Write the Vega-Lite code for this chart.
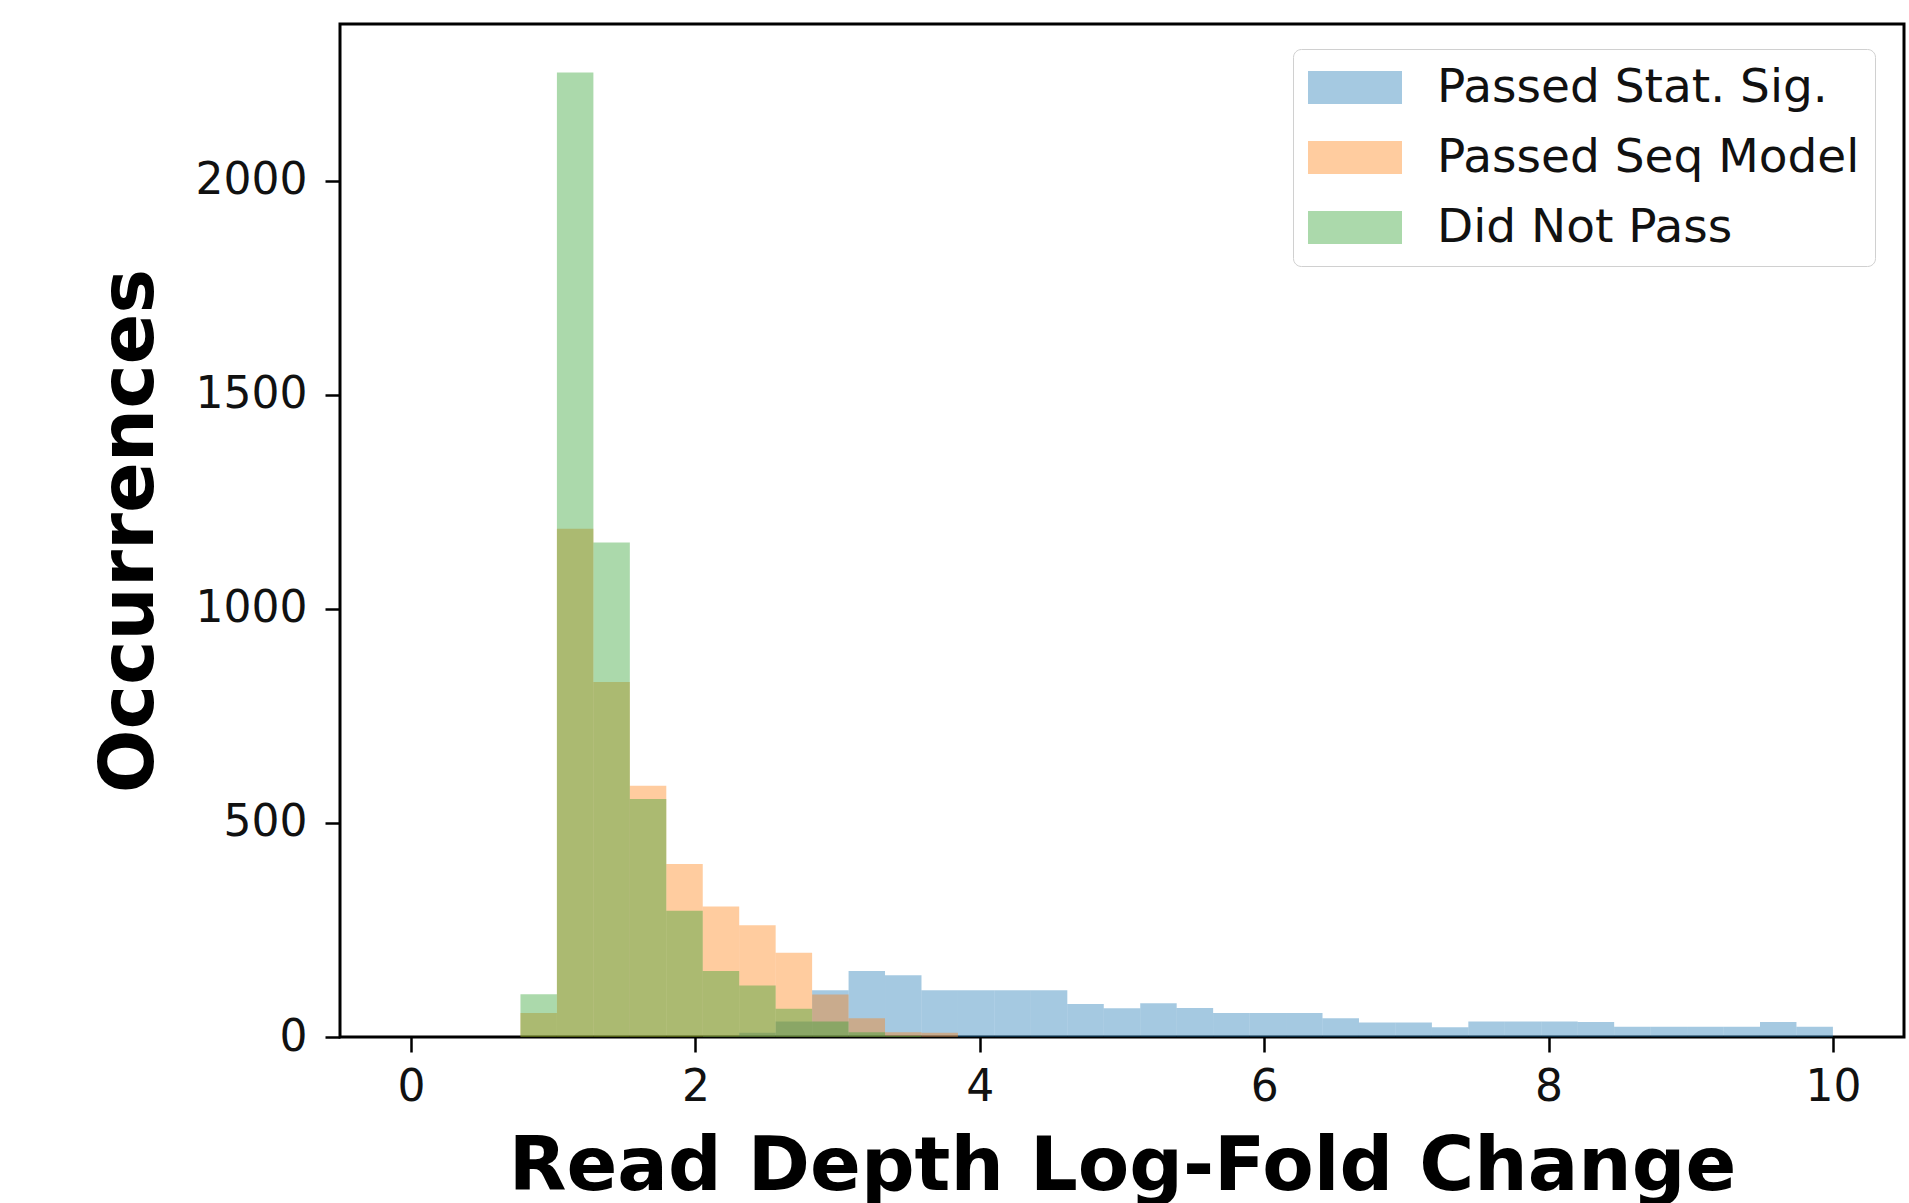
{
  "$schema": "https://vega.github.io/schema/vega-lite/v6.json",
  "width": 1564,
  "height": 1013,
  "autosize": {"type": "none"},
  "padding": {"left": 340, "top": 24, "right": 5, "bottom": 166},
  "background": "white",
  "data": {"values": [
    {"group": "Passed Stat. Sig.", "start": 2.0513, "end": 2.3077, "count": 2},
    {"group": "Passed Stat. Sig.", "start": 2.3077, "end": 2.5641, "count": 10},
    {"group": "Passed Stat. Sig.", "start": 2.5641, "end": 2.8205, "count": 36},
    {"group": "Passed Stat. Sig.", "start": 2.8205, "end": 3.0769, "count": 109},
    {"group": "Passed Stat. Sig.", "start": 3.0769, "end": 3.3333, "count": 154},
    {"group": "Passed Stat. Sig.", "start": 3.3333, "end": 3.5897, "count": 144},
    {"group": "Passed Stat. Sig.", "start": 3.5897, "end": 3.8462, "count": 109},
    {"group": "Passed Stat. Sig.", "start": 3.8462, "end": 4.1026, "count": 109},
    {"group": "Passed Stat. Sig.", "start": 4.1026, "end": 4.3590, "count": 109},
    {"group": "Passed Stat. Sig.", "start": 4.3590, "end": 4.6154, "count": 109},
    {"group": "Passed Stat. Sig.", "start": 4.6154, "end": 4.8718, "count": 77},
    {"group": "Passed Stat. Sig.", "start": 4.8718, "end": 5.1282, "count": 67},
    {"group": "Passed Stat. Sig.", "start": 5.1282, "end": 5.3846, "count": 79},
    {"group": "Passed Stat. Sig.", "start": 5.3846, "end": 5.6410, "count": 68},
    {"group": "Passed Stat. Sig.", "start": 5.6410, "end": 5.8974, "count": 56},
    {"group": "Passed Stat. Sig.", "start": 5.8974, "end": 6.1538, "count": 56},
    {"group": "Passed Stat. Sig.", "start": 6.1538, "end": 6.4103, "count": 56},
    {"group": "Passed Stat. Sig.", "start": 6.4103, "end": 6.6667, "count": 44},
    {"group": "Passed Stat. Sig.", "start": 6.6667, "end": 6.9231, "count": 34},
    {"group": "Passed Stat. Sig.", "start": 6.9231, "end": 7.1795, "count": 34},
    {"group": "Passed Stat. Sig.", "start": 7.1795, "end": 7.4359, "count": 23},
    {"group": "Passed Stat. Sig.", "start": 7.4359, "end": 7.6923, "count": 36},
    {"group": "Passed Stat. Sig.", "start": 7.6923, "end": 7.9487, "count": 36},
    {"group": "Passed Stat. Sig.", "start": 7.9487, "end": 8.2051, "count": 36},
    {"group": "Passed Stat. Sig.", "start": 8.2051, "end": 8.4615, "count": 35},
    {"group": "Passed Stat. Sig.", "start": 8.4615, "end": 8.7179, "count": 24},
    {"group": "Passed Stat. Sig.", "start": 8.7179, "end": 8.9744, "count": 24},
    {"group": "Passed Stat. Sig.", "start": 8.9744, "end": 9.2308, "count": 24},
    {"group": "Passed Stat. Sig.", "start": 9.2308, "end": 9.4872, "count": 24},
    {"group": "Passed Stat. Sig.", "start": 9.4872, "end": 9.7436, "count": 35},
    {"group": "Passed Stat. Sig.", "start": 9.7436, "end": 10.0, "count": 24},
    {"group": "Passed Seq Model", "start": 0.7692, "end": 1.0256, "count": 56},
    {"group": "Passed Seq Model", "start": 1.0256, "end": 1.2821, "count": 1187},
    {"group": "Passed Seq Model", "start": 1.2821, "end": 1.5385, "count": 829},
    {"group": "Passed Seq Model", "start": 1.5385, "end": 1.7949, "count": 587},
    {"group": "Passed Seq Model", "start": 1.7949, "end": 2.0513, "count": 404},
    {"group": "Passed Seq Model", "start": 2.0513, "end": 2.3077, "count": 305},
    {"group": "Passed Seq Model", "start": 2.3077, "end": 2.5641, "count": 261},
    {"group": "Passed Seq Model", "start": 2.5641, "end": 2.8205, "count": 197},
    {"group": "Passed Seq Model", "start": 2.8205, "end": 3.0769, "count": 99},
    {"group": "Passed Seq Model", "start": 3.0769, "end": 3.3333, "count": 44},
    {"group": "Passed Seq Model", "start": 3.3333, "end": 3.5897, "count": 11},
    {"group": "Passed Seq Model", "start": 3.5897, "end": 3.8462, "count": 10},
    {"group": "Did Not Pass", "start": 0.7692, "end": 1.0256, "count": 100},
    {"group": "Did Not Pass", "start": 1.0256, "end": 1.2821, "count": 2253},
    {"group": "Did Not Pass", "start": 1.2821, "end": 1.5385, "count": 1155},
    {"group": "Did Not Pass", "start": 1.5385, "end": 1.7949, "count": 556},
    {"group": "Did Not Pass", "start": 1.7949, "end": 2.0513, "count": 295},
    {"group": "Did Not Pass", "start": 2.0513, "end": 2.3077, "count": 154},
    {"group": "Did Not Pass", "start": 2.3077, "end": 2.5641, "count": 120},
    {"group": "Did Not Pass", "start": 2.5641, "end": 2.8205, "count": 66},
    {"group": "Did Not Pass", "start": 2.8205, "end": 3.0769, "count": 36},
    {"group": "Did Not Pass", "start": 3.0769, "end": 3.3333, "count": 11},
    {"group": "Did Not Pass", "start": 3.3333, "end": 3.5897, "count": 3}
  ]},
  "mark": {"type": "bar", "opacity": 0.4},
  "encoding": {
    "x": {
      "field": "start", "type": "quantitative",
      "scale": {"domain": [-0.5, 10.5], "nice": false, "zero": false},
      "title": "Read Depth Log-Fold Change",
      "axis": {
        "values": [0, 2, 4, 6, 8, 10], "domain": false, "grid": false,
        "tickSize": 15, "tickWidth": 2.5, "tickColor": "black",
        "labelFontSize": 44, "labelFont": "DejaVu Sans", "labelColor": "#111111",
        "labelPadding": 13, "labelFlush": false, "labelOverlap": false,
        "titleFontSize": 75, "titleFont": "DejaVu Sans", "titleFontWeight": "bold",
        "titleColor": "black", "titlePadding": 21
      }
    },
    "x2": {"field": "end"},
    "y": {
      "field": "count", "type": "quantitative", "stack": null,
      "scale": {"domain": [0, 2366], "nice": false},
      "title": "Occurrences",
      "axis": {
        "values": [0, 500, 1000, 1500, 2000], "format": "d", "domain": false, "grid": false,
        "tickSize": 15, "tickWidth": 2.5, "tickColor": "black",
        "labelFontSize": 44, "labelFont": "DejaVu Sans", "labelColor": "#111111",
        "labelPadding": 18, "labelOverlap": false,
        "titleFontSize": 75, "titleFont": "DejaVu Sans", "titleFontWeight": "bold",
        "titleColor": "black", "titlePadding": 27
      }
    },
    "y2": {"datum": 0},
    "color": {
      "field": "group", "type": "nominal",
      "scale": {"domain": ["Passed Stat. Sig.", "Passed Seq Model", "Did Not Pass"], "range": ["#1f77b4", "#ff7f0e", "#2ca02c"]},
      "legend": {
        "orient": "none", "legendX": 953, "legendY": 25, "title": null,
        "symbolType": "M-1,-0.7H3V0.7H-1Z", "symbolSize": 2209,
        "symbolStrokeWidth": 0, "symbolOpacity": 0.4,
        "labelFontSize": 47, "labelFont": "DejaVu Sans", "labelColor": "#111111",
        "labelOffset": 82, "labelLimit": 1000, "rowPadding": 22,
        "padding": 15, "strokeColor": "#d0d0d0", "fillColor": "white", "cornerRadius": 8
      }
    }
  },
  "config": {"view": {"stroke": "black", "strokeWidth": 3}}
}
